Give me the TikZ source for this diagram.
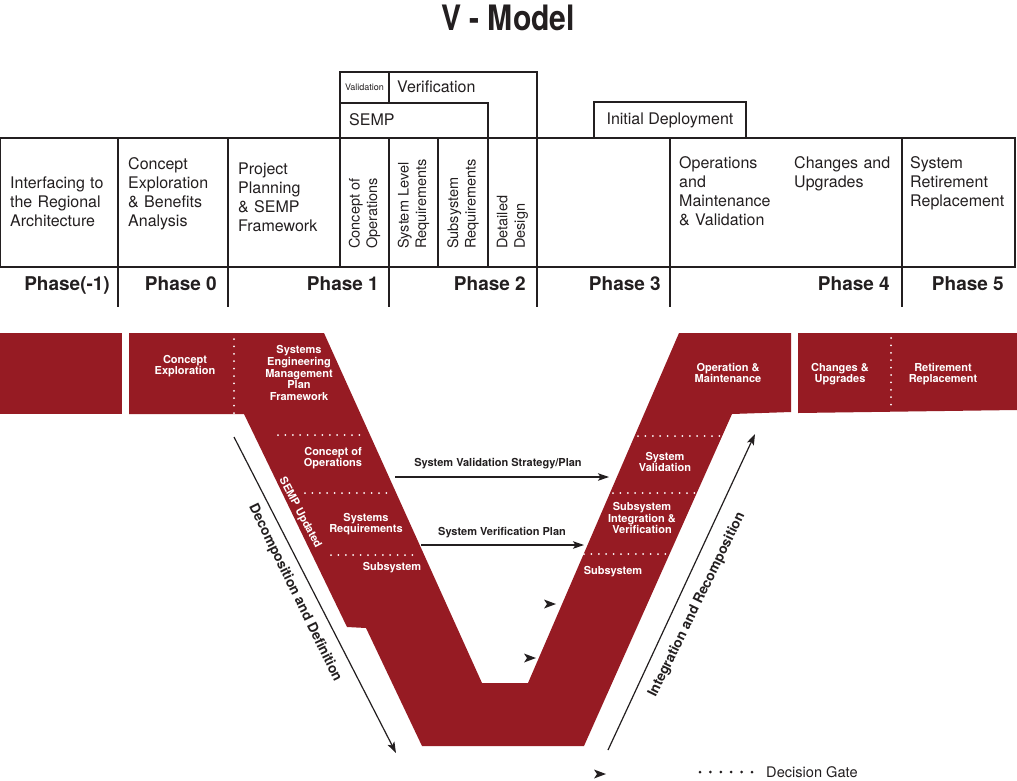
\documentclass[tikz,border=0pt]{standalone}
\usepackage{fontspec}
\setmainfont{TeX Gyre Heros}
\newfontfamily\titlefont[FakeStretch=0.86]{TeX Gyre Heros}
\usetikzlibrary{arrows.meta}
\definecolor{vred}{RGB}{150,27,35}
\definecolor{ink}{RGB}{35,31,32}
\begin{document}
\begin{tikzpicture}[x=1pt,y=-1pt,
  frame/.style={draw=ink, line width=1.3pt},
  cell/.style={font=\fontsize{16}{19.3}\selectfont, text=ink, align=left, anchor=base west, inner sep=0pt, text width=112pt},
  rotcell/.style={font=\fontsize{14.5}{17.5}\selectfont, text=ink, align=left, rotate=90, anchor=west, inner sep=0pt},
  phase/.style={font=\bfseries\fontsize{19}{21}\selectfont, text=ink, anchor=base east, inner sep=0pt},
  vlab/.style={font=\bfseries\fontsize{11}{11.6}\selectfont, text=white, align=center, inner sep=0pt},
  alab/.style={font=\bfseries\fontsize{11}{13}\selectfont, text=ink, inner sep=0pt},
  biglab/.style={font=\bfseries\fontsize{13.8}{15}\selectfont, text=ink, inner sep=0pt},
  gate/.style={draw=white, line width=2pt, line cap=round, dash pattern=on 0pt off 7.4pt},
  flow/.style={draw=ink, line width=1.2pt, -{Stealth[length=11pt,width=7.5pt,inset=2.5pt]}},
  head/.style={fill=ink}
]
\useasboundingbox (0,0) rectangle (1017,780);

% title
\node[text=ink, inner sep=0pt] (title) at (508,18) {\titlefont\bfseries\fontsize{35}{35}\selectfont V - Model};

% ---------- table ----------
\draw[frame] (0,138) rectangle (1015,267);
\foreach \x in {118,228,340,389,438,488,537,670,902}
  \draw[frame] (\x,138) -- (\x,267);
\foreach \x in {118,228,389,537,670,902}
  \draw[frame] (\x,267) -- (\x,307);
\draw[frame] (340,138) -- (340,72) -- (537,72) -- (537,138);
\draw[frame] (340,103) -- (488,103) -- (488,138);
\draw[frame] (389,72) -- (389,103);
\draw[frame] (594,138) -- (594,102) -- (746,102) -- (746,138);

\node[font=\fontsize{9}{10}\selectfont, text=ink, inner sep=0pt] (valid) at (364.5,87) {Validation};
\node[font=\fontsize{16}{18}\selectfont, text=ink, anchor=west, inner sep=0pt] (verif) at (397,87) {Verification};
\node[font=\fontsize{16}{18}\selectfont, text=ink, anchor=west, inner sep=0pt] (sempb) at (349,120) {SEMP};
\node[font=\fontsize{16}{18}\selectfont, text=ink, inner sep=0pt] (initdep) at (670,120) {Initial Deployment};

\node[cell] (c1) at (10,188) {Interfacing to\\the Regional\\Architecture};
\node[cell] (c2) at (128,169) {Concept\\Exploration\\\& Benefits\\Analysis};
\node[cell] (c3) at (238,174) {Project\\Planning\\\& SEMP\\Framework};
\node[rotcell] (r1) at (364.5,249) {Concept of\\Operations};
\node[rotcell] (r2) at (413.5,249) {System Level\\Requirements};
\node[rotcell] (r3) at (463,249) {Subsystem\\Requirements};
\node[rotcell] (r4) at (512.5,249) {Detailed\\Design};
\node[cell] (c4) at (679,168) {Operations\\and\\Maintenance\\\& Validation};
\node[cell] (c5) at (794,168) {Changes and\\Upgrades};
\node[cell, text width=100pt] (c6) at (910,168) {System\\Retirement\\Replacement};

\node[phase] (pm1) at (110,290) {Phase(-1)};
\node[phase] (p0) at (217,290) {Phase 0};
\node[phase] (p1) at (379,290) {Phase 1};
\node[phase] (p2) at (526,290) {Phase 2};
\node[phase] (p3) at (661,290) {Phase 3};
\node[phase] (p4) at (890,290) {Phase 4};
\node[phase] (p5) at (1004,290) {Phase 5};

% ---------- V shape ----------
\fill[vred] (0,333) rectangle (122,414);
\fill[vred] (129,333) -- (324,333) -- (482,683) -- (528,683) -- (679,333)
  -- (791,333) -- (791,412) -- (732,414) -- (584,746) -- (422,746)
  -- (366,628) -- (347,627) -- (244,414) -- (129,414) -- cycle;
\fill[vred] (798,333) -- (1017,333) -- (1017,410) -- (798,413) -- cycle;

% decision gates
\draw[gate] (234,339) -- (234,413);
\draw[gate] (278,435) -- (360,435);
\draw[gate] (305,493) -- (387,493);
\draw[gate] (331,555) -- (415,555);
\draw[gate] (638,436) -- (723,436);
\draw[gate] (613,493) -- (697,493);
\draw[gate] (584,554) -- (668,554);
\draw[gate] (891,338) -- (891,410);

% V labels
\node[vlab] (ce) at (185,366) {Concept\\Exploration};
\node[vlab] (semp) at (299,373) {Systems\\Engineering\\Management\\Plan\\Framework};
\node[vlab] (conops) at (333,458) {Concept of\\Operations};
\node[vlab] (sysreq) at (366,524) {Systems\\Requirements};
\node[vlab] (subl) at (392,568) {Subsystem};
\node[vlab, rotate=-62] (sempupd) at (300,513) {SEMP Updated};
\node[vlab] (opm) at (728,373) {Operation \&\\Maintenance};
\node[vlab] (cu) at (840,374) {Changes \&\\Upgrades};
\node[vlab] (rr) at (943,374) {Retirement\\Replacement};
\node[vlab] (sv) at (665,462) {System\\Validation};
\node[vlab] (sint) at (642,518) {Subsystem\\Integration \&\\Verification};
\node[vlab] (subr) at (613,572) {Subsystem};

% arrows
\coordinate (va1) at (395,477); \coordinate (va2) at (609,477);
\coordinate (ve1) at (421,545); \coordinate (ve2) at (584,545);
\coordinate (d1) at (234,437); \coordinate (d2) at (396,753);
\coordinate (i1) at (608,750); \coordinate (i2) at (755,434);
\draw[flow] (va1) -- (va2);
\draw[flow] (ve1) -- (ve2);
\draw[flow] (d1) -- (d2);
\draw[flow] (i1) -- (i2);
\node[alab] (valt) at (498,464) {System Validation Strategy/Plan};
\node[alab] (vert) at (502,533) {System Verification Plan};
\node[biglab, rotate=-64] (dec) at (295,593) {Decomposition and Definition};
\node[biglab, rotate=64] (intg) at (697,605) {Integration and Recomposition};

% loose arrowheads
\foreach \ax/\ay in {550/604, 530/658, 600/774}
  \fill[head] (\ax+6,\ay) -- (\ax-6,\ay-4.5) -- (\ax-3,\ay) -- (\ax-6,\ay+4.5) -- cycle;

% legend
\draw[draw=ink, line width=3pt, line cap=round, dash pattern=on 0pt off 10.4pt] (700,772) -- (752,772);
\node[font=\fontsize{14.6}{16}\selectfont, text=ink, anchor=west, inner sep=0pt] (dg) at (766,772) {Decision Gate};
\end{tikzpicture}
\end{document}
